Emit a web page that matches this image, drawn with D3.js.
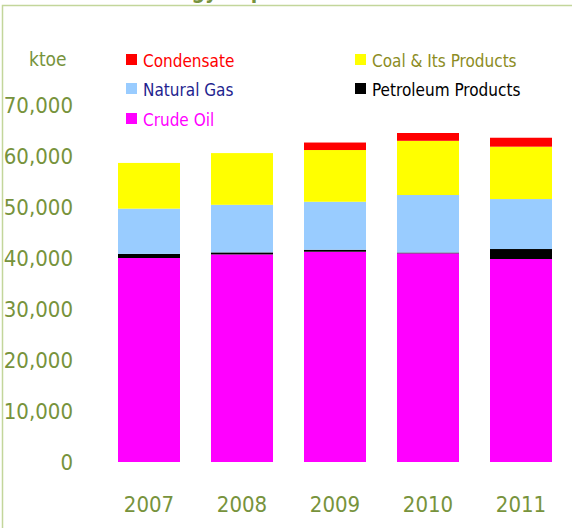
<!DOCTYPE html>
<html>
<head>
<meta charset="utf-8" />
<title>Energy Import</title>
<script src="https://cdn.jsdelivr.net/npm/d3@7"></script>
<style>
  body { margin: 0; background: #fff; }
  svg text { font-family: "DejaVu Sans Condensed", "DejaVu Sans", sans-serif; }
</style>
</head>
<body>
<svg id="chart" width="572" height="528"></svg>
<script>
// data (ktoe)
var years = ["2007", "2008", "2009", "2010", "2011"];
var crudeOil     = [40000, 40700, 41230, 40920, 39800];
var petroleum    = [800, 400, 390, 150, 1960];
var naturalGas   = [8880, 9330, 9410, 11280, 9800];
var coal         = [8960, 10140, 10140, 10630, 10270];
var condensate   = [0, 0, 1470, 1530, 1750];
var yTicks = [0, 10000, 20000, 30000, 40000, 50000, 60000, 70000];

var series = [
  { name: "Crude Oil", values: crudeOil, color: "#ff00ff" },
  { name: "Petroleum Products", values: petroleum, color: "#000000" },
  { name: "Natural Gas", values: naturalGas, color: "#99ccff" },
  { name: "Coal & Its Products", values: coal, color: "#ffff00" },
  { name: "Condensate", values: condensate, color: "#ff0000" }
];

var olive = "#77933c";

var svg = d3.select("#chart");

// frame + title (cut off at the top, as in the original)
svg.append("rect")
  .attr("x", 2.5).attr("y", 5.5)
  .attr("width", 640).attr("height", 600)
  .attr("fill", "none")
  .attr("stroke", "#c3d69b")
  .attr("stroke-width", 1.5);

svg.append("text")
  .attr("x", 143).attr("y", -1)
  .attr("fill", olive)
  .attr("font-size", 21)
  .attr("font-weight", "bold")
  .text("Energy Import");

var x = d3.scaleBand()
  .domain(years)
  .range([102.5, 567.5])
  .paddingInner(1 / 3)
  .paddingOuter(1 / 6);

var y = d3.scaleLinear()
  .domain([0, 70000])
  .range([462, 105]);

// stack
var rows = years.map(function(yr, i) {
  var r = { year: yr };
  series.forEach(function(s) { r[s.name] = s.values[i]; });
  return r;
});
var stack = d3.stack().keys(series.map(function(s) { return s.name; }));
var layers = stack(rows);

svg.append("g")
  .selectAll("g")
  .data(layers)
  .join("g")
  .attr("fill", function(d, i) { return series[i].color; })
  .selectAll("rect")
  .data(function(d) { return d; })
  .join("rect")
  .attr("x", function(d) { return x(d.data.year); })
  .attr("width", x.bandwidth())
  .attr("y", function(d) { return y(d[1]); })
  .attr("height", function(d) { return y(d[0]) - y(d[1]); });

// y axis labels, no line
var yAxis = d3.axisLeft(y)
  .tickValues(yTicks)
  .tickSize(0)
  .tickPadding(0)
  .tickFormat(d3.format(","));
var gy = svg.append("g")
  .attr("transform", "translate(73,0)")
  .call(yAxis);
gy.select(".domain").remove();
gy.selectAll("text")
  .attr("fill", olive)
  .attr("font-size", 22)
  .attr("dy", "0.36em")
  .style("font-family", "'DejaVu Sans Condensed', 'DejaVu Sans', sans-serif");

// x axis labels
var xAxis = d3.axisBottom(x).tickSize(0).tickPadding(0);
var gx = svg.append("g")
  .attr("transform", "translate(0,512)")
  .call(xAxis);
gx.select(".domain").remove();
gx.selectAll("text")
  .attr("fill", olive)
  .attr("font-size", 22)
  .attr("dy", 0)
  .attr("y", 0)
  .style("font-family", "'DejaVu Sans Condensed', 'DejaVu Sans', sans-serif");

// unit
svg.append("text")
  .attr("x", 29).attr("y", 66)
  .attr("fill", olive)
  .attr("font-size", 19)
  .text("ktoe");

// legend
var legend = [
  { name: "Condensate", color: "#ff0000", text: "#ff0000", x: 126, y: 67 },
  { name: "Natural Gas", color: "#99ccff", text: "#1f1f8f", x: 126, y: 96 },
  { name: "Crude Oil", color: "#ff00ff", text: "#ff00ff", x: 126, y: 126 },
  { name: "Coal & Its Products", color: "#ffff00", text: "#8c8c23", x: 355, y: 67 },
  { name: "Petroleum Products", color: "#000000", text: "#000000", x: 355, y: 96 }
];
var lg = svg.append("g").selectAll("g")
  .data(legend)
  .join("g")
  .attr("transform", function(d) { return "translate(" + d.x + "," + d.y + ")"; });
lg.append("rect")
  .attr("x", 0).attr("y", -13)
  .attr("width", 11).attr("height", 11)
  .attr("fill", function(d) { return d.color; });
lg.append("text")
  .attr("x", 17).attr("y", 0)
  .attr("font-size", 17)
  .attr("fill", function(d) { return d.text; })
  .text(function(d) { return d.name; });
</script>
</body>
</html>
